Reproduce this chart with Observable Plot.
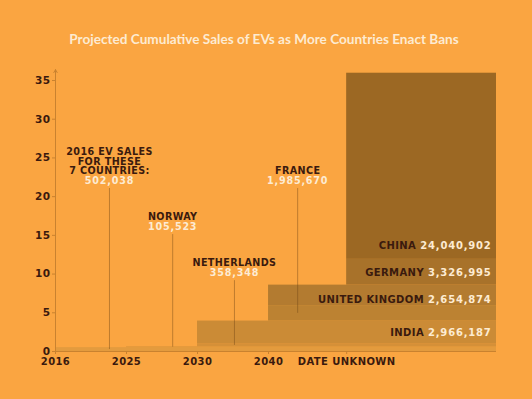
<!DOCTYPE html>
<html><head><meta charset="utf-8">
<script src="https://cdn.jsdelivr.net/npm/d3@7"></script>
<script src="https://cdn.jsdelivr.net/npm/@observablehq/plot@0.6"></script>
<style>
html,body{margin:0;padding:0;background:#FAA541;}
#wrap{width:532px;height:399px;background:#FAA541;overflow:hidden;position:relative;}
#title{height:60px;box-sizing:border-box;padding-top:31px;text-align:center;font-family:Lato,sans-serif;font-weight:700;font-size:13.6px;color:#FDEBD2;line-height:16px;white-space:nowrap;padding-right:4px;}
#chart svg{display:block;}
#chart text{letter-spacing:0.4px;}
</style></head><body>
<div id="wrap"><div id="title">Projected Cumulative Sales of EVs as More Countries Enact Bans</div><div id="chart"></div></div>
<script>
// ---- data ----
const periods = ["2016", "2025", "2030", "2040", "DATE UNKNOWN"];
const countries = ["2016 EV SALES\nFOR THESE\n7 COUNTRIES:", "NORWAY", "NETHERLANDS", "INDIA", "FRANCE", "UNITED KINGDOM", "GERMANY", "CHINA"];
const sales = [502038, 105523, 358348, 2966187, 1985670, 2654874, 3326995, 24040902];
const banPeriod = ["2016", "2025", "2030", "2030", "2040", "2040", "DATE UNKNOWN", "DATE UNKNOWN"];
const yTicks = [0, 5, 10, 15, 20, 25, 30, 35];

// ---- layout / style ----
const periodPos = [0, 1, 2, 3, 4.1];
const xEnd = 6.21;
const layerColors = ["#E39B3E", "#DD963B", "#D59038", "#CB8B36", "#BC8232", "#B37B30", "#A8722A", "#9C6823"];
const calloutIdx = [0, 1, 2, 4];
const calloutX = [0.76, 1.65, 2.52, 3.41];
const calloutY = [22.1, 16.15, 10.2, 22.1];
const rightIdx = [7, 6, 5, 3];
const rightY = [13.6, 10.2, 6.7, 2.45];
const rightX = 6.14;
const DARK = "#3A1A0E", CREAM = "#FDEBD2", AXIS = "#C9822F";

const fmt = d3.format(",");
const cum = d3.cumsum(sales.map(s => s / 1e6));
const layers = countries.map((c, i) => ({
  country: c,
  x1: periodPos[periods.indexOf(banPeriod[i])],
  x2: xEnd,
  y1: i ? cum[i - 1] : 0,
  y2: cum[i],
  color: layerColors[i]
}));
const callouts = calloutIdx.map((ci, k) => ({
  name: countries[ci], value: fmt(sales[ci]), x: calloutX[k], y: calloutY[k],
  yBottom: (layers[ci].y1 + layers[ci].y2) / 2
}));

// measure numbers for right labels
const ctx = document.createElement("canvas").getContext("2d");
ctx.font = "bold 10px 'DejaVu Sans'";
const numLS = 0.8;
const rights = rightIdx.map((ci, k) => {
  const v = fmt(sales[ci]);
  return {name: countries[ci], value: v, y: rightY[k], w: ctx.measureText(v).width + numLS * v.length};
});

const marks = [
  Plot.rect(layers, {x1: "x1", x2: "x2", y1: "y1", y2: "y2", fill: "color"}),
  Plot.ruleY([0], {stroke: AXIS, strokeWidth: 1}),
  Plot.arrow([0], {x1: 0, x2: 0, y1: 0, y2: 36.4, stroke: AXIS, strokeWidth: 1, headLength: 5}),
  Plot.axisY({ticks: yTicks, tickSize: 3, tickPadding: 2, stroke: AXIS, fill: DARK, fontSize: 10.5}),
  Plot.axisX({ticks: periodPos, tickFormat: d => periods[periodPos.indexOf(d)], tickSize: 3, tickPadding: 3, stroke: AXIS, fill: DARK, fontSize: 10}),
  Plot.ruleX(callouts, {x: "x", y1: "yBottom", y2: d => d.y - 1.05, stroke: "#6B4212", strokeOpacity: 0.42, strokeWidth: 1}),
  Plot.text(callouts, {x: "x", y: "y", text: "name", lineAnchor: "bottom", dy: -6.2, lineHeight: 1.0, fill: DARK, fontSize: 9.6}),
  Plot.text(callouts, {x: "x", y: "y", text: "value", dy: 0.5, fill: CREAM, fontSize: 9.6}),
  Plot.text(rights, {x: () => rightX, y: "y", text: "value", textAnchor: "end", fill: CREAM, fontSize: 10}),
  ...rights.map(r => Plot.text([r], {x: () => rightX, y: "y", text: "name", textAnchor: "end", dx: -(r.w + 4), fill: DARK, fontSize: 10}))
];

const chart = Plot.plot({
  width: 532, height: 339,
  marginLeft: 55, marginRight: 36, marginTop: 20, marginBottom: 48,
  x: {domain: [0, xEnd], axis: null},
  y: {domain: [0, 35], axis: null},
  style: {background: "transparent", fontFamily: "'DejaVu Sans', sans-serif", fontWeight: "bold", color: DARK, overflow: "visible"},
  marks
});
document.getElementById("chart").appendChild(chart);
chart.querySelectorAll("g[fill='" + CREAM + "'] text").forEach(t => t.style.letterSpacing = numLS + "px");
</script>
</body></html>
